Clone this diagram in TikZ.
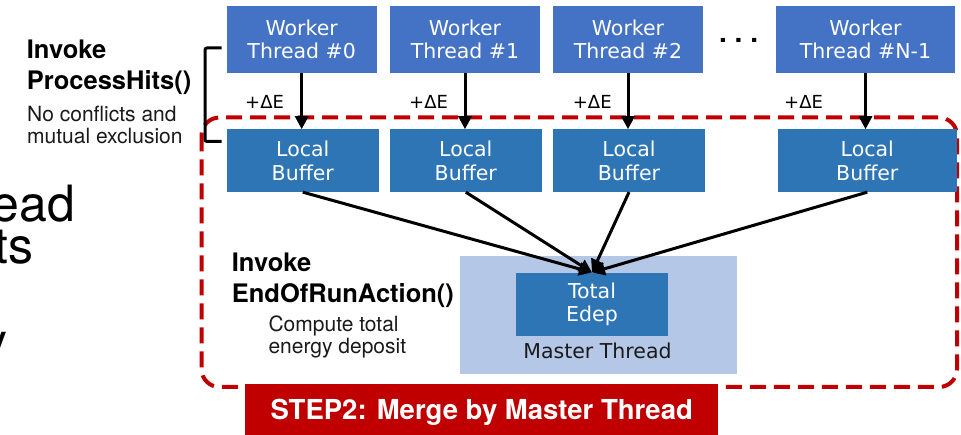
\documentclass[tikz,border=0pt]{standalone}
\usepackage{fontspec}
\setmainfont{TeX Gyre Heros}
\newfontfamily\boxfont{DejaVu Sans}
\usetikzlibrary{arrows.meta}
\definecolor{workerblue}{HTML}{4472C4}
\definecolor{bufferblue}{HTML}{2E75B6}
\definecolor{masterblue}{HTML}{B4C7E7}
\definecolor{stepred}{HTML}{C00000}
\definecolor{labelgray}{HTML}{1A1A1A}

\begin{document}
\begin{tikzpicture}[x=1pt,y=-1pt,
  boxtext/.style={text=white, inner sep=0pt, align=center,
    font=\boxfont\fontsize{20.5}{23.5}\selectfont},
  worker/.style={boxtext, fill=workerblue, minimum height=67pt},
  buffer/.style={boxtext, fill=bufferblue, minimum height=62.5pt, minimum width=152pt},
  flow/.style={line width=3pt, -{Triangle[length=13pt,width=13pt]}},
  delta/.style={anchor=base west, inner sep=0pt, font=\boxfont\fontsize{18}{18}\selectfont},
  headline/.style={anchor=base west, inner sep=0pt, font=\bfseries\fontsize{25.5}{25.5}\selectfont},
  note/.style={anchor=base west, inner sep=0pt, text=labelgray, font=\fontsize{21}{21}\selectfont},
  bigtext/.style={anchor=base east, inner sep=0pt, font=\fontsize{50}{50}\selectfont}]

\useasboundingbox (0,0) rectangle (961,435);
\fill[white] (0,0) rectangle (961,435);

% fragments of slide text on the left edge
\node[bigtext] (frag1) at (75.5,221.7) {ead};
\node[bigtext] (frag2) at (34,263.3) {ts};
\node[bigtext] (frag3) at (8,359) {y};

% master thread area
\node[fill=masterblue, minimum width=276.7pt, minimum height=118pt, inner sep=0pt] (master) at (598.3,315) {};
\node[anchor=base, inner sep=0pt, text=labelgray, font=\boxfont\fontsize{20.5}{20.5}\selectfont] (mlabel) at (597.5,358.3) {Master Thread};

% merge region
\draw[stepred, line width=4pt, dash pattern=on 16pt off 8pt, rounded corners=18pt]
  (201.5,117.5) rectangle (957,387);

% worker threads
\node[worker, minimum width=150pt] (w0) at (301.7,39.5) {Worker\\Thread \#0};
\node[worker, minimum width=150pt] (w1) at (465,39.5) {Worker\\Thread \#1};
\node[worker, minimum width=150pt] (w2) at (628,39.5) {Worker\\Thread \#2};
\node[worker, minimum width=179pt] (wN) at (865.5,39.5) {Worker\\Thread \#N-1};
\node[anchor=base west, inner sep=0pt, font=\bfseries\fontsize{28}{28}\selectfont] (dots) at (719,43) {.\ .\ .};

% local buffers
\node[buffer] (b0) at (302.8,160.7) {Local\\Buffer};
\node[buffer] (b1) at (465.8,160.7) {Local\\Buffer};
\node[buffer] (b2) at (629,160.7) {Local\\Buffer};
\node[buffer, minimum width=179pt] (bN) at (867.3,160.7) {Local\\Buffer};

% total energy deposit
\node[boxtext, fill=bufferblue, minimum width=151.7pt, minimum height=63.3pt] (total) at (592,304.3) {Total\\Edep};

% energy increments
\node[delta] (d0) at (245,108.3) {+ΔE};
\node[delta] (d1) at (409,108.3) {+ΔE};
\node[delta] (d2) at (572.7,108.3) {+ΔE};
\node[delta] (dN) at (784,108.3) {+ΔE};

\foreach \i in {0,1,2,N} {
  \draw[flow] (w\i.south) -- (w\i.south |- b\i.north);
  \draw[flow] (b\i.south) -- (total.north);
}

% bracket for ProcessHits
\draw[line width=3pt, rounded corners=2pt] (221.5,48) -- (205,48) -- (205,141.5) -- (221.5,141.5);

% annotations
\node[headline] (inv1) at (26.7,58.3) {Invoke};
\node[headline] (ph) at (26.7,90) {ProcessHits()};
\node[note] (nc) at (27,121.7) {No conflicts and};
\node[note] (me) at (27,144) {mutual exclusion};

\node[headline] (inv2) at (231.7,271.7) {Invoke};
\node[headline] (eor) at (231.7,303) {EndOfRunAction()};
\node[note] (ct) at (268.3,331.7) {Compute total};
\node[note] (ed) at (268.3,354) {energy deposit};

% step banner
\node[fill=stepred, text=white, minimum width=473.3pt, minimum height=51pt, inner sep=0pt,
  text height=19.5pt, text depth=0pt, font=\bfseries\fontsize{27.5}{27.5}\selectfont]
  (step) at (481.7,409.5) {STEP2: Merge by Master Thread};
\end{tikzpicture}
\end{document}
